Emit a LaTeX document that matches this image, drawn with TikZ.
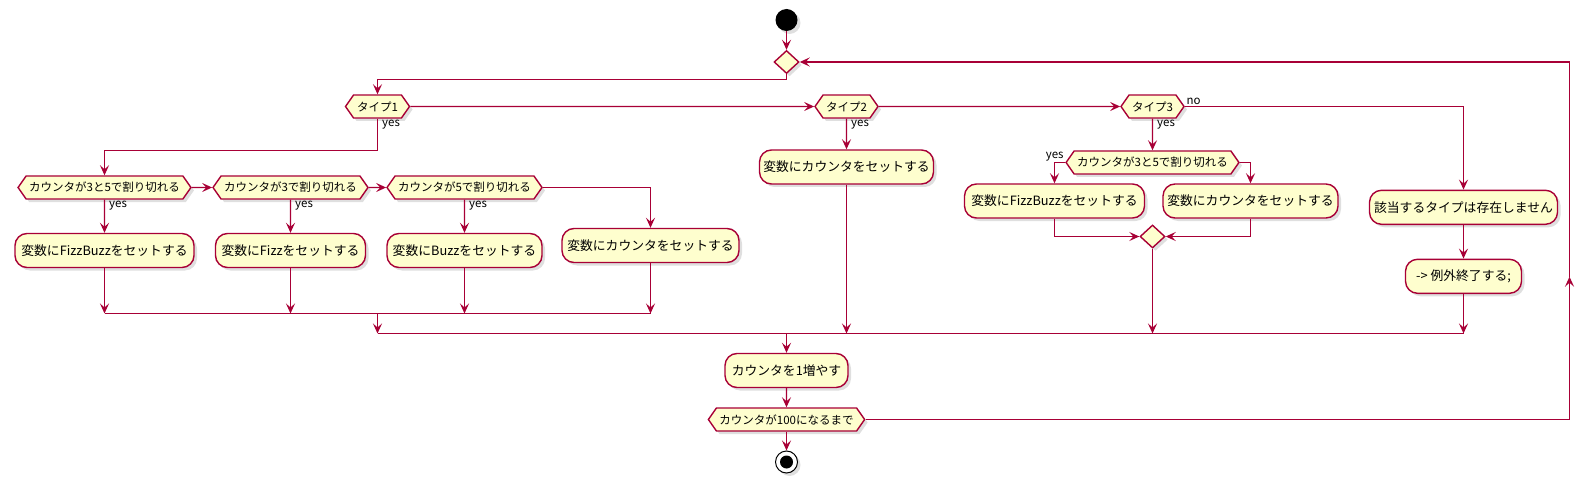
\documentclass[tikz,border=0pt]{standalone}
\usepackage{fontspec}
\setmainfont{Noto Sans CJK JP}
\usepackage{tikz}
\usetikzlibrary{shapes.geometric, shapes.symbols, arrows.meta, shadows}
\definecolor{umlred}{HTML}{A80036}
\definecolor{umlfill}{HTML}{FEFECE}
\tikzstyle{umlshadow} =
[drop shadow = {shadow xshift = 3pt, shadow yshift = -3pt, opacity = 0.25}]
\tikzstyle{startnode} =
[circle, minimum size = 22pt, inner sep = 0pt, fill=black, umlshadow]
\tikzstyle{stopnode} =
[circle, minimum size = 22pt, inner sep = 0pt, draw=black, line width = 1pt,
fill=white, umlshadow, path picture = {\fill [black]
(path picture bounding box.center) circle (6.5pt);}]
\tikzstyle{merge} =
[diamond, minimum width = 25pt, minimum height = 23pt, inner sep = 0pt,
draw=umlred, line width = 1.4pt, fill=umlfill, umlshadow]
\tikzstyle{decision} =
[signal, signal to = east and west, signal pointer angle = 110,
minimum height = 23pt, inner xsep = 3pt, inner ysep = 0pt,
font = \fontsize{11.5}{13}\selectfont, draw=umlred, line width = 1.4pt,
fill=umlfill, umlshadow]
\tikzstyle{action} =
[rectangle, rounded corners = 12pt, minimum height = 34pt, text centered,
font = \fontsize{12.8}{15}\selectfont, draw=umlred, line width = 1.4pt,
fill=umlfill, umlshadow]
\tikzstyle{guard} =
[font = \fontsize{11.5}{13}\selectfont, inner sep = 1pt]
\tikzstyle{line} = [draw=umlred, line width = 1.4pt,
-{Stealth[length = 10pt, width = 9pt, inset = 4pt]}]
\tikzstyle{plain} = [draw=umlred, line width = 1.4pt]
\begin{document}
\begin{tikzpicture}[x = 1pt, y = -1pt, node distance = 40pt, auto]
  \useasboundingbox (0,0) rectangle (1594,481);
  % loop head
  \node [startnode] (start) at (786.5,20) {};
  \node [merge, below of=start, node distance=42pt] (loopin) {};
  \node [decision, minimum width=64pt] (type1) at (377.5,106.5) {タイプ1};
  \node [decision, right of=type1, node distance=469pt, minimum width=63pt]
   (type2) {タイプ2};
  \node [decision, right of=type2, node distance=306pt, minimum width=63pt]
   (type3) {タイプ3};
  % type 1 nodes
  \node [decision, minimum width=169pt] (div35) at (104.5,187.5)
   {カウンタが3と5で割り切れる};
  \node [decision, right of=div35, node distance=186pt, minimum width=151pt]
   (div3) {カウンタが3で割り切れる};
  \node [decision, right of=div3, node distance=174pt, minimum width=152pt]
   (div5) {カウンタが5で割り切れる};
  \node [action, below of=div35, node distance=63pt, minimum width=179pt]
   (setfizzbuzz) {変数にFizzBuzzをセットする};
  \node [action, below of=div3, node distance=63pt, minimum width=150pt]
   (setfizz) {変数にFizzをセットする};
  \node [action, below of=div5, node distance=63pt, minimum width=155pt]
   (setbuzz) {変数にBuzzをセットする};
  \node [action, minimum width=177pt] (setcount) at (650.5,245.5)
   {変数にカウンタをセットする};
  % type 2 nodes
  \node [action, below of=type2, node distance=60.5pt, minimum width=174pt]
   (setcounttwo) {変数にカウンタをセットする};
  % type 3 nodes
  \node [decision, below of=type3, node distance=56pt, minimum width=169pt]
   (divthree) {カウンタが3と5で割り切れる};
  \node [action, minimum width=180pt] (setfizzbuzzthree) at (1054.5,201)
   {変数にFizzBuzzをセットする};
  \node [action, minimum width=175pt] (setcountthree) at (1250.5,201)
   {変数にカウンタをセットする};
  \node [merge, below of=divthree, node distance=74pt] (mergethree) {};
  % no type
  \node [action, minimum width=188pt] (notype) at (1463.5,207.3)
   {該当するタイプは存在しません};
  \node [action, below of=notype, node distance=69pt, minimum width=116pt]
   (abort) {-> 例外終了する;};
  % loop tail
  \node [action, minimum width=123pt] (increment) at (786.5,370.5)
   {カウンタを1増やす};
  \node [decision, below of=increment, node distance=49pt, minimum width=153pt]
   (until) {カウンタが100になるまで};
  \node [stopnode, below of=until, node distance=42.5pt] (stop) {};
  % bends and joins
  \coordinate (bendtop) at (786.5,79.5);
  \coordinate (bendone) at (377.5,150.5);
  \coordinate (joinone) at (377.5,313.5);
  \coordinate (jointwo) at (786.5,333.5);
  \coordinate (back) at (1569.5,276.7);
  % edges of the loop head
  \path [line] (start) -- (loopin);
  \path [line] (loopin) -- (bendtop) -| (type1);
  \path [line] (type1) -- (type2);
  \path [line] (type2) -- (type3);
  % type 1 edges
  \path [line] (type1) -- node [guard, pos=0, anchor=north west, xshift=3pt]
   (yesone) {yes} (bendone) -| (div35);
  \path [line] (div35) -- node [guard, pos=0, anchor=north west, xshift=3pt]
   (yesfb) {yes} (setfizzbuzz);
  \path [line] (div35) -- (div3);
  \path [line] (div3) -- node [guard, pos=0, anchor=north west, xshift=3pt]
   (yesf) {yes} (setfizz);
  \path [line] (div3) -- (div5);
  \path [line] (div5) -- node [guard, pos=0, anchor=north west, xshift=3pt]
   (yesb) {yes} (setbuzz);
  \path [line] (div5) -| (setcount);
  \path [line] (setfizzbuzz) -- (setfizzbuzz |- joinone);
  \path [line] (setfizz) -- (setfizz |- joinone);
  \path [line] (setbuzz) -- (setbuzz |- joinone);
  \path [line] (setcount) -- (setcount |- joinone);
  \path [plain] (setfizzbuzz |- joinone) -- (setcount |- joinone);
  \path [line] (joinone) -- (type1 |- jointwo);
  % type 2 edges
  \path [line] (type2) -- node [guard, pos=0, anchor=north west, xshift=3pt]
   (yestwo) {yes} (setcounttwo);
  \path [line] (setcounttwo) -- (setcounttwo |- jointwo);
  % type 3 edges
  \path [line] (type3) -- node [guard, pos=0, anchor=north west, xshift=3pt]
   (yesthree) {yes} (divthree);
  \path [line] (divthree) -| node [guard, pos=0, anchor=south east] (yesfbthree)
   {yes} (setfizzbuzzthree);
  \path [line] (divthree) -| (setcountthree);
  \path [line] (setfizzbuzzthree) |- (mergethree);
  \path [line] (setcountthree) |- (mergethree);
  \path [line] (mergethree) -- (mergethree |- jointwo);
  % no type edges
  \path [line] (type3) -| node [guard, pos=0, anchor=south west] (nothree) {no}
   (notype);
  \path [line] (notype) -- (abort);
  \path [line] (abort) -- (abort |- jointwo);
  % edges of the loop tail
  \path [plain] (type1 |- jointwo) -- (notype |- jointwo);
  \path [line] (jointwo) -- (increment);
  \path [line] (increment) -- (until);
  \path [line] (until) -- (stop);
  \path [line] (until) -| (back);
  \path [line] (back) |- (loopin);
\end{tikzpicture}
\end{document}
